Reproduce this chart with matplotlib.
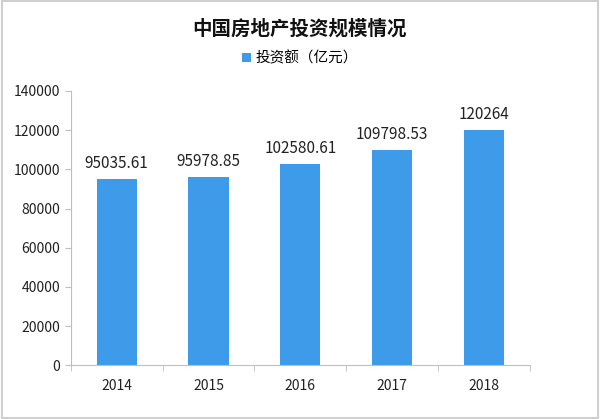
import numpy as np
import matplotlib.pyplot as plt

plt.rcParams['font.family'] = ['Noto Sans CJK SC', 'DejaVu Sans']

years = ['2014', '2015', '2016', '2017', '2018']
invest = [95035.61, 95978.85, 102580.61, 109798.53, 120264]
labels = ['95035.61', '95978.85', '102580.61', '109798.53', '120264']

fig = plt.figure(figsize=(6, 4.19), dpi=100)
ax = fig.add_axes([0.118, 0.128, 0.765, 0.655])

x = np.arange(len(years))
bars = ax.bar(x, invest, width=0.44, color='#3d9be9', label='投资额（亿元）')
for xi, v, t in zip(x, invest, labels):
    ax.text(xi, v + 3500, t, ha='center', va='bottom', fontsize=11, color='#222222')

ax.set_xlim(-0.5, 4.5)
ax.set_ylim(0, 140000)
ax.set_yticks(range(0, 140001, 20000))
ax.set_xticks(x)
ax.set_xticklabels(years)
ax.tick_params(axis='y', labelsize=10, length=4, color='#bfbfbf', colors='#222222')
ax.tick_params(axis='x', labelsize=10, length=0, pad=10, colors='#222222')
ax.set_xticks(np.arange(-0.5, 5, 1), minor=True)
ax.tick_params(axis='x', which='minor', length=4, color='#bfbfbf')
for s in ['top', 'right']:
    ax.spines[s].set_visible(False)
for s in ['left', 'bottom']:
    ax.spines[s].set_color('#bfbfbf')

fig.text(0.5, 0.932, '中国房地产投资规模情况', ha='center', va='center',
         fontsize=14, fontweight='bold', color='#111111')
fig.legend(handles=[bars], loc='center', bbox_to_anchor=(0.5, 0.86), frameon=False,
           fontsize=10.5, handlelength=0.6, handleheight=0.6, handletextpad=0.3)

fig.patches.append(plt.Rectangle((0.003, 0.003), 0.994, 0.994, transform=fig.transFigure,
                                 fill=False, edgecolor='#d0d0d0', linewidth=1.5))

fig.savefig('out.png', dpi=100)
